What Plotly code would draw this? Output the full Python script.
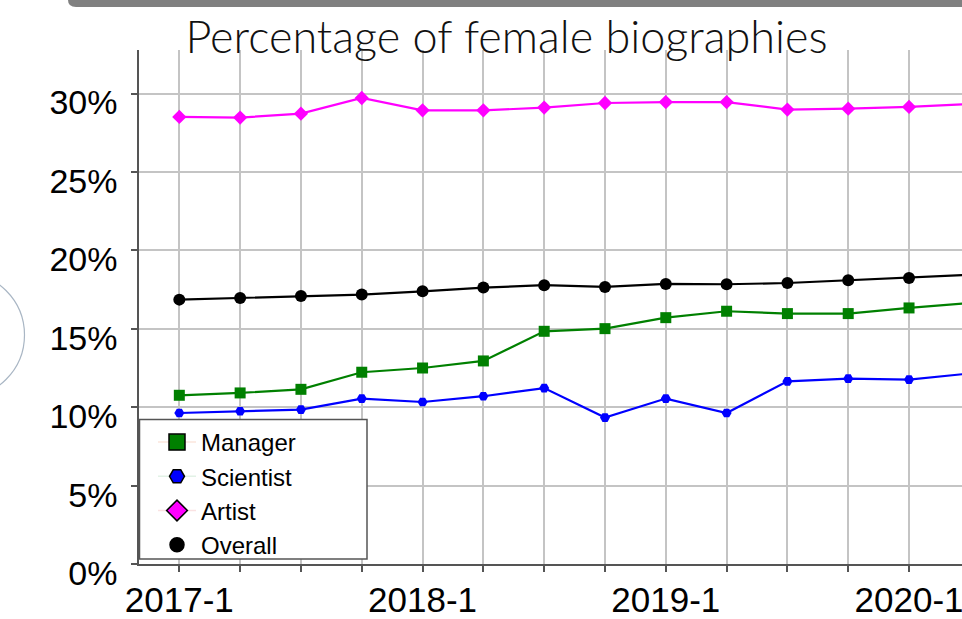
import plotly.graph_objects as go

periods = ['2017-1', '2017-2', '2017-3', '2017-4',
           '2018-1', '2018-2', '2018-3', '2018-4',
           '2019-1', '2019-2', '2019-3', '2019-4',
           '2020-1', '2020-2']
tick_labels = [p if p.endswith('-1') else '' for p in periods]
y_ticks = [0, 5, 10, 15, 20, 25, 30]
y_tick_labels = ['0%', '5%', '10%', '15%', '20%', '25%', '30%']

manager = [10.76, 10.91, 11.14, 12.23, 12.50, 12.95, 14.84, 15.01, 15.71, 16.12, 15.97, 15.97, 16.33, 16.65]
scientist = [9.63, 9.74, 9.85, 10.55, 10.33, 10.70, 11.22, 9.34, 10.55, 9.63, 11.65, 11.82, 11.76, 12.15]
artist = [28.51, 28.47, 28.72, 29.72, 28.93, 28.93, 29.11, 29.40, 29.46, 29.46, 28.98, 29.04, 29.15, 29.33]
overall = [16.86, 16.96, 17.09, 17.18, 17.39, 17.63, 17.78, 17.67, 17.86, 17.84, 17.92, 18.09, 18.24, 18.44]

series = [
    ('Manager', manager, '#008000', 'square', 11, '#fbe6dc'),
    ('Scientist', scientist, '#0000ff', 'hexagon2', 10, '#e2f2e6'),
    ('Artist', artist, '#ff00ff', 'diamond', 11, '#fae2e2'),
    ('Overall', overall, '#000000', 'circle', 12, 'rgba(0,0,0,0)'),
]

W, H = 962, 619
L, R, T, B = 139, 0, 50, 55
pw, ph = W - L - R, H - T - B

def px(x):
    return (x - L) / pw

def py(y):
    return (H - B - y) / ph

fig = go.Figure()
for name, vals, color, sym, size, _ in series:
    fig.add_trace(go.Scatter(
        x=periods, y=vals, mode='lines+markers', name=name,
        line=dict(color=color, width=2.2),
        marker=dict(color=color, symbol=sym, size=size),
        showlegend=False, cliponaxis=True))

legend_sizes = {'Manager': 16, 'Scientist': 15, 'Artist': 16, 'Overall': 14}
for name, vals, color, sym, size, faint in series:
    fig.add_trace(go.Scatter(
        x=[None], y=[None], mode='lines+markers', name=name,
        line=dict(color=faint, width=1.5),
        marker=dict(color=color, symbol=sym, size=legend_sizes[name],
                    line=dict(color='#000000', width=1.5)),
        showlegend=True))

fig.update_layout(
    width=W, height=H,
    margin=dict(l=L, r=R, t=T, b=B, pad=0, autoexpand=False),
    paper_bgcolor='white', plot_bgcolor='white',
    font=dict(family='Liberation Sans, Arial, sans-serif', color='#000000'),
    title=dict(text='Percentage of female biographies',
               font=dict(family='Lato', size=45, color='#111111', weight=300),
               xref='container', x=506.5 / W, xanchor='center',
               yref='container', y=1 - 21 / H, yanchor='top', automargin=False),
    showlegend=True,
    legend=dict(x=px(153), y=py(420), xanchor='left', yanchor='top',
                bgcolor='rgba(0,0,0,0)', borderwidth=0,
                font=dict(family='Liberation Sans, Arial, sans-serif', size=24, color='#000000'),
                itemsizing='trace', itemwidth=38, tracegroupgap=0),
    xaxis=dict(
        type='category', range=[-0.663, 12.871], automargin=False,
        tickmode='array', tickvals=periods, ticktext=tick_labels,
        showgrid=True, gridcolor='#c4c4c4', gridwidth=1.5,
        showline=True, linecolor='#555555', linewidth=1.5,
        ticks='outside', ticklen=6, tickcolor='#555555', tickwidth=1.5,
        tickfont=dict(size=35, family='Liberation Sans, Arial, sans-serif'),
        ticklabelstandoff=-2,
        ticklabeloverflow='allow', zeroline=False, fixedrange=True),
    yaxis=dict(
        range=[0, 32.78], automargin=False,
        tickmode='array', tickvals=y_ticks, ticktext=y_tick_labels,
        showgrid=True, gridcolor='#c4c4c4', gridwidth=1.5,
        showline=True, linecolor='#555555', linewidth=1.5,
        ticks='outside', ticklen=6, tickcolor='#555555', tickwidth=1.5,
        tickfont=dict(size=34, family='Liberation Sans, Arial, sans-serif'),
        ticklabelshift=9, ticklabelstandoff=7,
        ticklabeloverflow='allow', zeroline=False, fixedrange=True),
)

# legend frame
fig.add_shape(type='rect', xref='paper', yref='paper',
              x0=px(139.5), x1=px(367), y0=py(559), y1=py(419.5),
              fillcolor='white', line=dict(color='#555555', width=1.5), layer='above')

# screenshot decorations: top bar and left arc
fig.add_shape(type='path', xref='paper', yref='paper',
              path=(f'M {px(68)},{py(-10)} L {px(68)},{py(0)} '
                    f'Q {px(68)},{py(7)} {px(76)},{py(7)} '
                    f'L {px(975)},{py(7)} L {px(975)},{py(-10)} Z'),
              fillcolor='#808080', line=dict(width=0), layer='above')
fig.add_shape(type='circle', xref='paper', yref='paper',
              x0=px(-102), x1=px(24.5), y0=py(398), y1=py(272),
              line=dict(color='#a9b6c4', width=1.2), fillcolor='rgba(0,0,0,0)')

fig.write_html('out.html', config={'displayModeBar': False},
               post_script="document.body.style.margin='0';document.body.style.overflow='hidden';")
